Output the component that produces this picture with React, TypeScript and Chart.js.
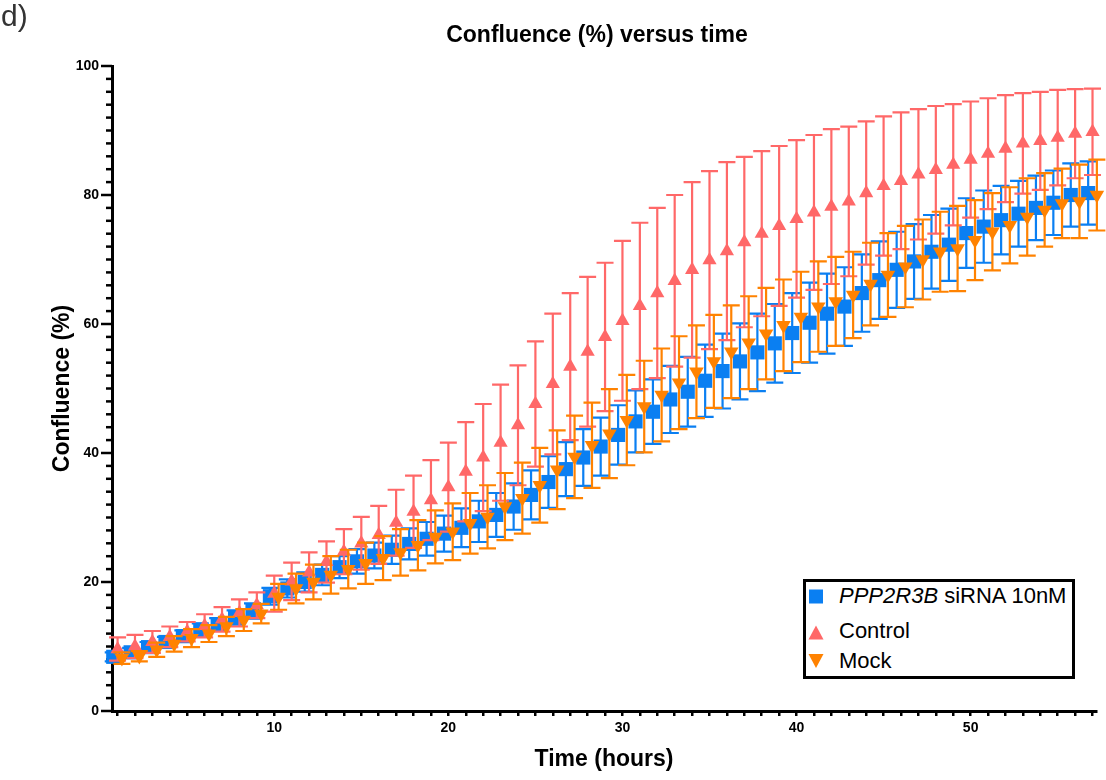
import { useEffect, useRef } from 'react';
import { Chart, registerables } from 'chart.js';

Chart.register(...registerables);

const FONT = "'Liberation Sans', Arial, Helvetica, sans-serif";

const chartTitle = 'Confluence (%) versus time';
const xTitle = 'Time (hours)';
const yTitle = 'Confluence (%)';
const panelLabel = 'd)';

const xTickLabels = [10, 20, 30, 40, 50];
const yTickLabels = [0, 20, 40, 60, 80, 100];

// PPP2R3B siRNA 10nM (blue squares)
const ppp2r3bHours = [0.75, 1.75, 2.75, 3.75, 4.75, 5.75, 6.75, 7.75, 8.75, 9.75, 10.75, 11.75, 12.75, 13.75, 14.75, 15.75, 16.75, 17.75, 18.75, 19.75, 20.75, 21.75, 22.75, 23.75, 24.75, 25.75, 26.75, 27.75, 28.75, 29.75, 30.75, 31.75, 32.75, 33.75, 34.75, 35.75, 36.75, 37.75, 38.75, 39.75, 40.75, 41.75, 42.75, 43.75, 44.75, 45.75, 46.75, 47.75, 48.75, 49.75, 50.75, 51.75, 52.75, 53.75, 54.75, 55.75, 56.75];
const ppp2r3bMean = [8.4, 9.1, 9.9, 10.7, 11.6, 12.6, 13.4, 14.5, 15.5, 17.8, 19.0, 20.0, 21.1, 22.3, 23.2, 24.1, 25.0, 25.9, 26.7, 27.5, 28.4, 29.4, 30.4, 31.7, 33.5, 35.5, 37.5, 39.3, 41.0, 42.8, 44.9, 46.4, 48.3, 49.5, 51.2, 52.7, 54.2, 55.6, 57.0, 58.6, 60.2, 61.6, 62.7, 64.8, 66.8, 68.4, 69.7, 71.2, 72.3, 74.1, 75.1, 76.1, 77.1, 78.0, 78.8, 80.0, 80.3];
const ppp2r3bSD = [0.7, 0.7, 0.8, 0.8, 0.9, 1.0, 1.0, 1.1, 1.2, 1.3, 1.4, 1.5, 1.6, 1.7, 1.9, 2.0, 2.2, 2.4, 2.6, 2.8, 3.0, 3.2, 3.4, 3.6, 3.8, 4.0, 4.2, 4.4, 4.5, 4.6, 4.8, 5.0, 5.2, 5.4, 5.6, 5.8, 5.9, 6.0, 6.1, 6.2, 6.2, 6.2, 6.1, 6.0, 6.0, 5.9, 5.8, 5.7, 5.6, 5.4, 5.6, 5.3, 5.1, 5.0, 5.0, 4.9, 4.9];

// Control (red up-triangles)
const controlHours = [1, 2, 3, 4, 5, 6, 7, 8, 9, 10, 11, 12, 13, 14, 15, 16, 17, 18, 19, 20, 21, 22, 23, 24, 25, 26, 27, 28, 29, 30, 31, 32, 33, 34, 35, 36, 37, 38, 39, 40, 41, 42, 43, 44, 45, 46, 47, 48, 49, 50, 51, 52, 53, 54, 55, 56, 57];
const controlMean = [9.6, 10.0, 10.7, 11.5, 12.3, 13.2, 14.2, 15.2, 16.4, 18.2, 20.1, 21.5, 23.1, 24.7, 26.0, 27.3, 29.2, 30.9, 32.7, 34.7, 37.1, 39.3, 41.6, 44.3, 47.6, 50.7, 53.4, 55.7, 58.0, 60.5, 62.8, 64.8, 66.7, 68.4, 69.9, 71.3, 72.7, 74.0, 75.2, 76.3, 77.3, 78.2, 79.0, 80.3, 81.4, 82.2, 83.2, 83.9, 84.7, 85.5, 86.4, 87.2, 88.0, 88.4, 88.9, 89.5, 89.8];
const controlSD = [1.8, 1.8, 1.7, 1.6, 1.5, 1.8, 1.9, 2.1, 2.0, 2.8, 2.9, 3.1, 3.2, 3.5, 4.1, 4.5, 5.1, 5.6, 6.2, 6.9, 7.7, 8.3, 9.0, 9.3, 9.7, 10.9, 11.4, 11.6, 11.5, 12.4, 12.9, 13.2, 13.3, 13.6, 13.8, 13.8, 13.2, 12.8, 12.4, 12.2, 12.0, 12.0, 11.6, 11.1, 10.8, 10.6, 10.1, 9.9, 9.4, 9.0, 8.6, 8.3, 7.8, 7.6, 7.4, 6.9, 6.7];

// Mock (orange down-triangles)
const mockHours = [1.25, 2.25, 3.25, 4.25, 5.25, 6.25, 7.25, 8.25, 9.25, 10.25, 11.25, 12.25, 13.25, 14.25, 15.25, 16.25, 17.25, 18.25, 19.25, 20.25, 21.25, 22.25, 23.25, 24.25, 25.25, 26.25, 27.25, 28.25, 29.25, 30.25, 31.25, 32.25, 33.25, 34.25, 35.25, 36.25, 37.25, 38.25, 39.25, 40.25, 41.25, 42.25, 43.25, 44.25, 45.25, 46.25, 47.25, 48.25, 49.25, 50.25, 51.25, 52.25, 53.25, 54.25, 55.25, 56.25, 57.25];
const mockMean = [8.2, 8.5, 9.5, 10.4, 11.3, 12.0, 13.1, 14.1, 15.1, 17.7, 19.0, 20.0, 21.1, 22.0, 22.9, 23.7, 24.6, 25.7, 27.0, 27.8, 29.1, 30.1, 31.7, 33.0, 35.0, 37.4, 39.4, 41.2, 43.0, 45.1, 47.2, 49.0, 50.9, 52.6, 54.2, 55.7, 57.1, 58.5, 59.8, 61.1, 62.7, 63.5, 64.5, 66.2, 67.6, 68.9, 70.0, 71.2, 71.7, 73.0, 74.3, 75.3, 76.6, 77.7, 78.7, 79.0, 80.0];
const mockSD = [0.9, 0.8, 1.1, 1.2, 1.4, 1.3, 1.5, 1.7, 1.5, 2.0, 2.3, 2.7, 2.9, 3.0, 3.2, 3.4, 3.6, 3.9, 4.1, 4.4, 4.7, 4.9, 5.2, 5.5, 5.8, 6.1, 6.4, 6.6, 6.9, 7.0, 7.1, 7.2, 7.2, 7.2, 7.2, 7.2, 7.2, 7.1, 7.1, 7.0, 7.0, 6.9, 6.7, 6.4, 6.5, 6.3, 6.2, 6.2, 6.6, 6.2, 6.0, 5.9, 6.0, 5.7, 5.4, 5.7, 5.5];

const BLUE = '#0A7FF2';
const RED = '#FF6868';
const ORANGE = '#FF8200';

const errorsByDataset: number[][] = [ppp2r3bSD, controlSD, mockSD];

const errorBarPlugin = {
  id: 'errorBars',
  beforeDatasetDraw(chart: any, args: any) {
    const idx = args.index;
    const ds = chart.data.datasets[idx];
    const errs = errorsByDataset[idx];
    const xs = chart.scales.x;
    const ys = chart.scales.y;
    const ctx = chart.ctx;
    const cap = 8.5;
    ctx.save();
    ctx.strokeStyle = ds.pointBackgroundColor;
    ctx.lineWidth = 2.2;
    ds.data.forEach((p: any, i: number) => {
      const px = xs.getPixelForValue(p.x);
      const yt = ys.getPixelForValue(p.y + errs[i]);
      const yb = ys.getPixelForValue(p.y - errs[i]);
      ctx.beginPath();
      ctx.moveTo(px, yt);
      ctx.lineTo(px, yb);
      ctx.moveTo(px - cap, yt);
      ctx.lineTo(px + cap, yt);
      ctx.moveTo(px - cap, yb);
      ctx.lineTo(px + cap, yb);
      ctx.stroke();
    });
    ctx.restore();
  },
};

const yTickPlugin = {
  id: 'yTicks',
  beforeDatasetsDraw(chart: any) {
    const ys = chart.scales.y;
    const ctx = chart.ctx;
    const left = chart.chartArea.left;
    ctx.save();
    ctx.strokeStyle = '#000';
    ctx.lineWidth = 2.5;
    ys.ticks.forEach((t: any) => {
      const py = ys.getPixelForValue(t.value);
      const len = yTickLabels.includes(t.value) ? 11 : 6;
      ctx.beginPath();
      ctx.moveTo(left, py);
      ctx.lineTo(left - len, py);
      ctx.stroke();
    });
    ctx.restore();
  },
};

function toPoints(xs: number[], ys: number[]) {
  return xs.map((x, i) => ({ x, y: ys[i] }));
}

export default function App() {
  const canvasRef = useRef<HTMLCanvasElement | null>(null);

  useEffect(() => {
    if (!canvasRef.current) return;
    const chart = new Chart(canvasRef.current, {
      type: 'scatter',
      data: {
        datasets: [
          {
            label: 'PPP2R3B siRNA 10nM',
            data: toPoints(ppp2r3bHours, ppp2r3bMean),
            pointStyle: 'rect',
            pointRadius: 10,
            pointBackgroundColor: BLUE,
            pointBorderWidth: 0,
            showLine: false,
            clip: false,
            order: 3,
          } as any,
          {
            label: 'Control',
            data: toPoints(controlHours, controlMean),
            pointStyle: 'triangle',
            pointRadius: 8.2,
            pointBackgroundColor: RED,
            pointBorderWidth: 0,
            showLine: false,
            clip: false,
            order: 2,
          } as any,
          {
            label: 'Mock',
            data: toPoints(mockHours, mockMean),
            pointStyle: 'triangle',
            pointRotation: 180,
            pointRadius: 8.4,
            pointBackgroundColor: ORANGE,
            pointBorderWidth: 0,
            showLine: false,
            clip: false,
            order: 1,
          } as any,
        ],
      },
      options: {
        responsive: false,
        animation: false,
        events: [],
        layout: { padding: { top: 66, right: 2, bottom: 0, left: 0 } },
        plugins: {
          legend: { display: false },
          tooltip: { enabled: false },
          title: { display: false },
        },
        scales: {
          x: {
            type: 'linear',
            position: 'bottom',
            min: 0.68,
            max: 57.2,
            afterFit: (s: any) => {
              s.height = 69;
            },
            ticks: {
              stepSize: 1,
              autoSkip: false,
              includeBounds: false,
              maxRotation: 0,
              padding: 4,
              color: '#000',
              font: { family: FONT, size: 14, weight: 'bold' },
              callback: (v: any) => (xTickLabels.includes(Number(v)) ? String(v) : ''),
            },
            grid: {
              display: true,
              drawOnChartArea: false,
              drawTicks: true,
              tickLength: 5,
              color: '#000',
              tickColor: '#000',
              lineWidth: 2.5,
              tickWidth: 2.5,
            },
            border: { display: true, color: '#000', width: 3 },
            title: {
              display: true,
              text: xTitle,
              color: '#000',
              font: { family: FONT, size: 23, weight: 'bold' },
              padding: { top: 0, bottom: 7 },
            },
          },
          y: {
            type: 'linear',
            min: 0,
            max: 100,
            afterFit: (s: any) => {
              s.width = 112;
            },
            ticks: {
              stepSize: 2,
              autoSkip: false,
              padding: 13,
              color: '#000',
              font: { family: FONT, size: 14, weight: 'bold' },
              callback: (v: any) => (yTickLabels.includes(Number(v)) ? String(v) : ''),
            },
            grid: { display: false, drawTicks: false },
            border: { display: true, color: '#000', width: 3 },
            title: {
              display: true,
              text: yTitle,
              color: '#000',
              font: { family: FONT, size: 23, weight: 'bold' },
              padding: { top: 49, bottom: 0 },
            },
          },
        },
      } as any,
      plugins: [errorBarPlugin, yTickPlugin],
    });
    return () => chart.destroy();
  }, []);

  return (
    <div style={{ position: 'fixed', left: 0, top: 0, width: 1106, height: 780, background: '#fff', overflow: 'hidden' }}>
      <canvas ref={canvasRef} width={1106} height={780} style={{ width: 1106, height: 780, display: 'block' }} />
      <div style={{ position: 'absolute', left: 1, top: 1, fontFamily: FONT, fontSize: 30, lineHeight: '30px', color: '#333' }}>
        {panelLabel}
      </div>
      <div
        style={{
          position: 'absolute',
          left: 597,
          top: 22.5,
          transform: 'translateX(-50%)',
          whiteSpace: 'nowrap',
          fontFamily: FONT,
          fontWeight: 'bold',
          fontSize: 23,
          lineHeight: '23px',
          color: '#000',
        }}
      >
        {chartTitle}
      </div>
      <div
        style={{
          position: 'absolute',
          left: 803,
          top: 579,
          width: 272,
          height: 100,
          border: '3px solid #000',
          boxSizing: 'border-box',
          background: '#fff',
        }}
      />
      <svg width={1106} height={780} style={{ position: 'absolute', left: 0, top: 0, pointerEvents: 'none' }}>
        <rect x={809} y={589.5} width={14} height={14} fill={BLUE} />
        <polygon points="816,625.5 823.5,639.5 808.5,639.5" fill={RED} />
        <polygon points="808.5,654 823.5,654 816,668" fill={ORANGE} />
      </svg>
      <div style={{ position: 'absolute', left: 839, top: 583.7, fontFamily: FONT, fontSize: 22, lineHeight: '24px', color: '#000', whiteSpace: 'nowrap' }}>
        <i>PPP2R3B</i> siRNA 10nM
      </div>
      <div style={{ position: 'absolute', left: 839, top: 618.7, fontFamily: FONT, fontSize: 22, lineHeight: '24px', color: '#000', whiteSpace: 'nowrap' }}>
        Control
      </div>
      <div style={{ position: 'absolute', left: 839, top: 648.7, fontFamily: FONT, fontSize: 22, lineHeight: '24px', color: '#000', whiteSpace: 'nowrap' }}>
        Mock
      </div>
    </div>
  );
}
